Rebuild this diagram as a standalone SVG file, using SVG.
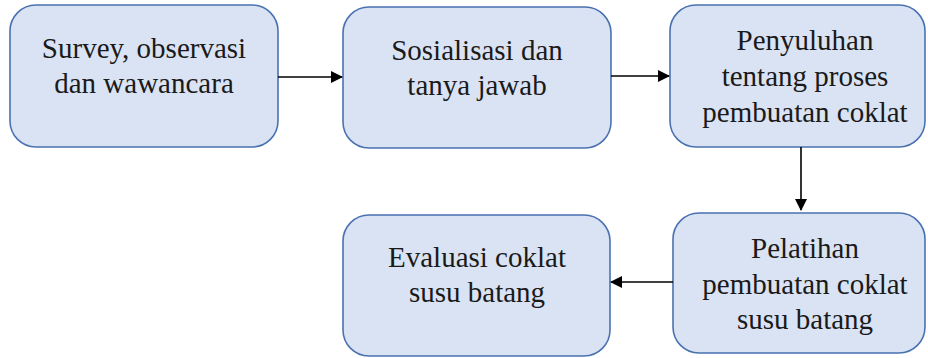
<svg xmlns="http://www.w3.org/2000/svg" width="928" height="358" viewBox="0 0 928 358">
<defs>
<marker id="ah" markerWidth="12" markerHeight="12" refX="11" refY="6" orient="auto" markerUnits="userSpaceOnUse">
<path d="M0,0 L12,6 L0,12 Z" fill="#000"/>
</marker>
</defs>
<style>
.box{fill:#dae3f3;stroke:#4a72b0;stroke-width:1.6}
.lbl{font-family:"Liberation Serif","Times New Roman",serif;font-size:29px;fill:#1a1a1a;text-anchor:middle}
.c{stroke:#000;stroke-width:1.6;fill:none}
</style>
<g id="n1">
<rect class="box" x="10" y="5" width="268" height="142" rx="26"/>
<text class="lbl" x="144" y="58">Survey, observasi</text>
<text class="lbl" x="144" y="93">dan wawancara</text>
</g>
<g id="n2">
<rect class="box" x="343" y="7" width="268" height="141" rx="26"/>
<text class="lbl" x="477" y="60">Sosialisasi dan</text>
<text class="lbl" x="477" y="95">tanya jawab</text>
</g>
<g id="n3">
<rect class="box" x="670" y="5" width="255" height="142" rx="26"/>
<text class="lbl" x="805" y="50">Penyuluhan</text>
<text class="lbl" x="805" y="86">tentang proses</text>
<text class="lbl" x="805" y="122">pembuatan coklat</text>
</g>
<g id="n4">
<rect class="box" x="673" y="213" width="252" height="140" rx="26"/>
<text class="lbl" x="805" y="258">Pelatihan</text>
<text class="lbl" x="805" y="294">pembuatan coklat</text>
<text class="lbl" x="805" y="329">susu batang</text>
</g>
<g id="n5">
<rect class="box" x="343" y="215" width="267" height="141" rx="26"/>
<text class="lbl" x="477" y="267">Evaluasi coklat</text>
<text class="lbl" x="477" y="302">susu batang</text>
</g>
<g id="connectors">
<line class="c" x1="278" y1="77" x2="342" y2="77" marker-end="url(#ah)"/>
<line class="c" x1="611" y1="76" x2="669" y2="76" marker-end="url(#ah)"/>
<line class="c" x1="801" y1="147" x2="801" y2="210" marker-end="url(#ah)"/>
<line class="c" x1="673" y1="282" x2="611" y2="282" marker-end="url(#ah)"/>
</g>
</svg>
